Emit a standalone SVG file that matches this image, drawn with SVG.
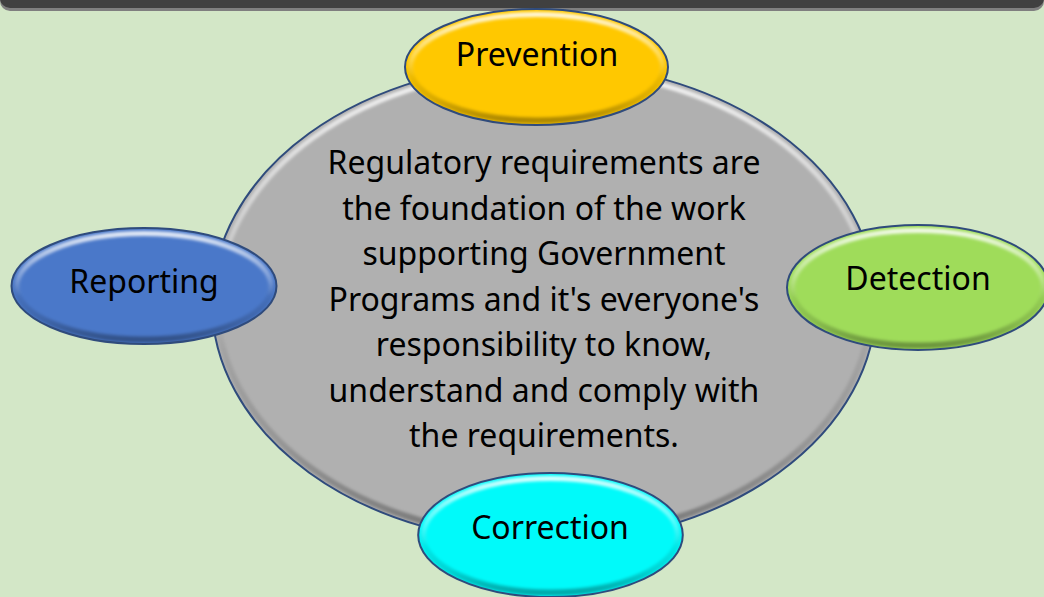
<svg xmlns="http://www.w3.org/2000/svg" width="1044" height="597" viewBox="0 0 1044 597">
  <style>
    .lbl { font-family: "Noto Sans", "Open Sans", sans-serif; font-size: 32px; fill: #000; text-anchor: middle; }
    .edge { fill: none; stroke: #2f4b7c; stroke-width: 2; }
    .hi { fill: none; stroke: url(#hiGrad); stroke-width: 5; filter: url(#soft); }
    .sh { fill: none; stroke: url(#shGrad); stroke-width: 6; filter: url(#soft); }
  </style>
  <defs>
    <linearGradient id="hiGrad" x1="0" y1="0" x2="0" y2="1">
      <stop offset="0" stop-color="#fff" stop-opacity="0.85"/>
      <stop offset="0.45" stop-color="#fff" stop-opacity="0.25"/>
      <stop offset="0.6" stop-color="#fff" stop-opacity="0"/>
    </linearGradient>
    <linearGradient id="shGrad" x1="0" y1="0" x2="0" y2="1">
      <stop offset="0.4" stop-color="#000" stop-opacity="0"/>
      <stop offset="0.8" stop-color="#000" stop-opacity="0.15"/>
      <stop offset="1" stop-color="#000" stop-opacity="0.32"/>
    </linearGradient>
    <filter id="soft" x="-5%" y="-5%" width="110%" height="110%">
      <feGaussianBlur stdDeviation="1.5"/>
    </filter>
  </defs>

  <rect x="0" y="0" width="1044" height="597" fill="#d3e7c7"/>

  <g id="topbar">
    <rect x="0" y="-20" width="1044" height="31" rx="10" fill="#7f7f7f"/>
    <rect x="0" y="-20" width="1044" height="28" rx="10" fill="#404040"/>
  </g>

  <g id="connectors"></g>

  <g id="center">
    <ellipse cx="544" cy="303" rx="332" ry="240" fill="#b0b0b0"/>
    <ellipse class="sh" cx="544" cy="303" rx="327" ry="235"/>
    <ellipse class="hi" cx="544" cy="303" rx="326" ry="234"/>
    <ellipse class="edge" cx="544" cy="303" rx="332" ry="240"/>
    <text class="lbl" x="544" y="174">Regulatory requirements are</text>
    <text class="lbl" x="544" y="219.5">the foundation of the work</text>
    <text class="lbl" x="544" y="265">supporting Government</text>
    <text class="lbl" x="544" y="310.5">Programs and it's everyone's</text>
    <text class="lbl" x="544" y="356">responsibility to know,</text>
    <text class="lbl" x="544" y="401.5">understand and comply with</text>
    <text class="lbl" x="544" y="447">the requirements.</text>
  </g>

  <g id="prevention">
    <ellipse cx="536.5" cy="67" rx="131.5" ry="58" fill="#ffc800"/>
    <ellipse class="sh" cx="536.5" cy="67" rx="127" ry="53.5"/>
    <ellipse class="hi" cx="536.5" cy="67" rx="126" ry="52.5"/>
    <ellipse class="edge" cx="536.5" cy="67" rx="131.5" ry="58"/>
    <text class="lbl" x="537" y="66">Prevention</text>
  </g>

  <g id="reporting">
    <ellipse cx="144" cy="286" rx="132.5" ry="58" fill="#4a78c9"/>
    <ellipse class="sh" cx="144" cy="286" rx="128" ry="53.5"/>
    <ellipse class="hi" cx="144" cy="286" rx="127" ry="52.5"/>
    <ellipse class="edge" cx="144" cy="286" rx="132.5" ry="58"/>
    <text class="lbl" x="144" y="292.5">Reporting</text>
  </g>

  <g id="detection">
    <ellipse cx="918" cy="287.5" rx="131" ry="62.5" fill="#9fdc5a"/>
    <ellipse class="sh" cx="918" cy="287.5" rx="126.5" ry="58"/>
    <ellipse class="hi" cx="918" cy="287.5" rx="125.5" ry="57"/>
    <ellipse class="edge" cx="918" cy="287.5" rx="131" ry="62.5"/>
    <text class="lbl" x="918" y="290">Detection</text>
  </g>

  <g id="correction">
    <ellipse cx="550.5" cy="535" rx="132.3" ry="62" fill="#00fafa"/>
    <ellipse class="sh" cx="550.5" cy="535" rx="128" ry="57.5"/>
    <ellipse class="hi" cx="550.5" cy="535" rx="127" ry="56.5"/>
    <ellipse class="edge" cx="550.5" cy="535" rx="132.3" ry="62"/>
    <text class="lbl" x="550" y="539">Correction</text>
  </g>
</svg>
